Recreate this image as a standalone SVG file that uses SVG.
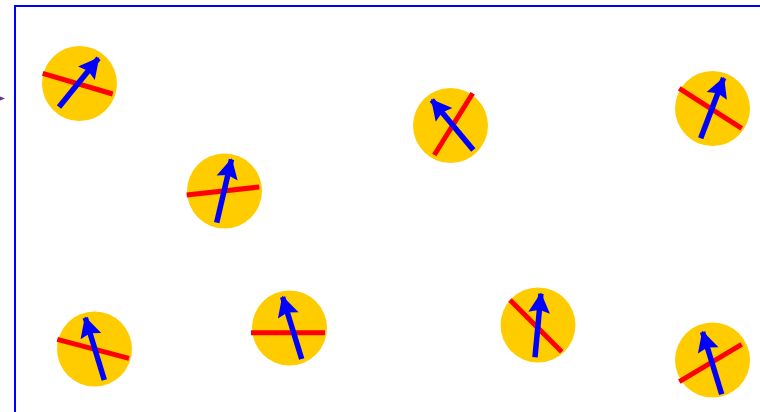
<svg xmlns="http://www.w3.org/2000/svg" width="760" height="412" viewBox="0 0 760 412">
<style>
.disc{fill:#FFCC00}
.bar{stroke:#FF0000;stroke-width:5;fill:none}
.dir{stroke:#0000FF;stroke-width:5.5;fill:none;marker-end:url(#head)}
</style>
<defs>
<marker id="head" markerUnits="userSpaceOnUse" markerWidth="24" markerHeight="24" refX="16" refY="10" orient="auto" viewBox="0 0 20 20" overflow="visible">
<path d="M0,1 L17,10 L0,19 L2.5,10 z" fill="#0000FF"/>
</marker>
</defs>
<rect x="15" y="6" width="760" height="420" fill="none" stroke="#0000FF" stroke-width="2"/>
<g id="connectors">
<path d="M-4,95 L5,98.5 L-4,102 z" fill="#663399"/>
</g>
<g id="n1"><circle class="disc" cx="79.5" cy="83.5" r="37.5"/><line class="bar" x1="42.7" y1="73.3" x2="112.7" y2="94"/><line class="dir" x1="59" y1="107" x2="98.5" y2="58.3"/></g>
<g id="n2"><circle class="disc" cx="224.5" cy="191" r="37.5"/><line class="bar" x1="186.7" y1="195" x2="259.3" y2="187"/><line class="dir" x1="216.7" y1="222.7" x2="231.5" y2="159.3"/></g>
<g id="n3"><circle class="disc" cx="450.5" cy="125.5" r="37.5"/><line class="bar" x1="434.3" y1="155" x2="472.7" y2="93.3"/><line class="dir" x1="473.3" y1="150" x2="431.8" y2="100"/></g>
<g id="n4"><circle class="disc" cx="712.5" cy="108.5" r="37.5"/><line class="bar" x1="679.3" y1="88.3" x2="741.7" y2="128.3"/><line class="dir" x1="700.7" y1="138.3" x2="723.6" y2="78"/></g>
<g id="n5"><circle class="disc" cx="94.5" cy="349" r="37.5"/><line class="bar" x1="57.3" y1="339.3" x2="129" y2="358.3"/><line class="dir" x1="104.3" y1="380" x2="85.3" y2="317.7"/></g>
<g id="n6"><circle class="disc" cx="289.5" cy="328" r="37.5"/><line class="bar" x1="251" y1="332.7" x2="325" y2="332.7"/><line class="dir" x1="301.7" y1="359" x2="282.6" y2="297"/></g>
<g id="n7"><circle class="disc" cx="538" cy="325" r="37.5"/><line class="bar" x1="510" y1="300" x2="561.7" y2="351.7"/><line class="dir" x1="535" y1="357.3" x2="540.9" y2="293.7"/></g>
<g id="n8"><circle class="disc" cx="712.5" cy="360" r="37.5"/><line class="bar" x1="679.3" y1="381.7" x2="741.7" y2="344.3"/><line class="dir" x1="721.7" y1="394.3" x2="702.6" y2="332"/></g>
</svg>
